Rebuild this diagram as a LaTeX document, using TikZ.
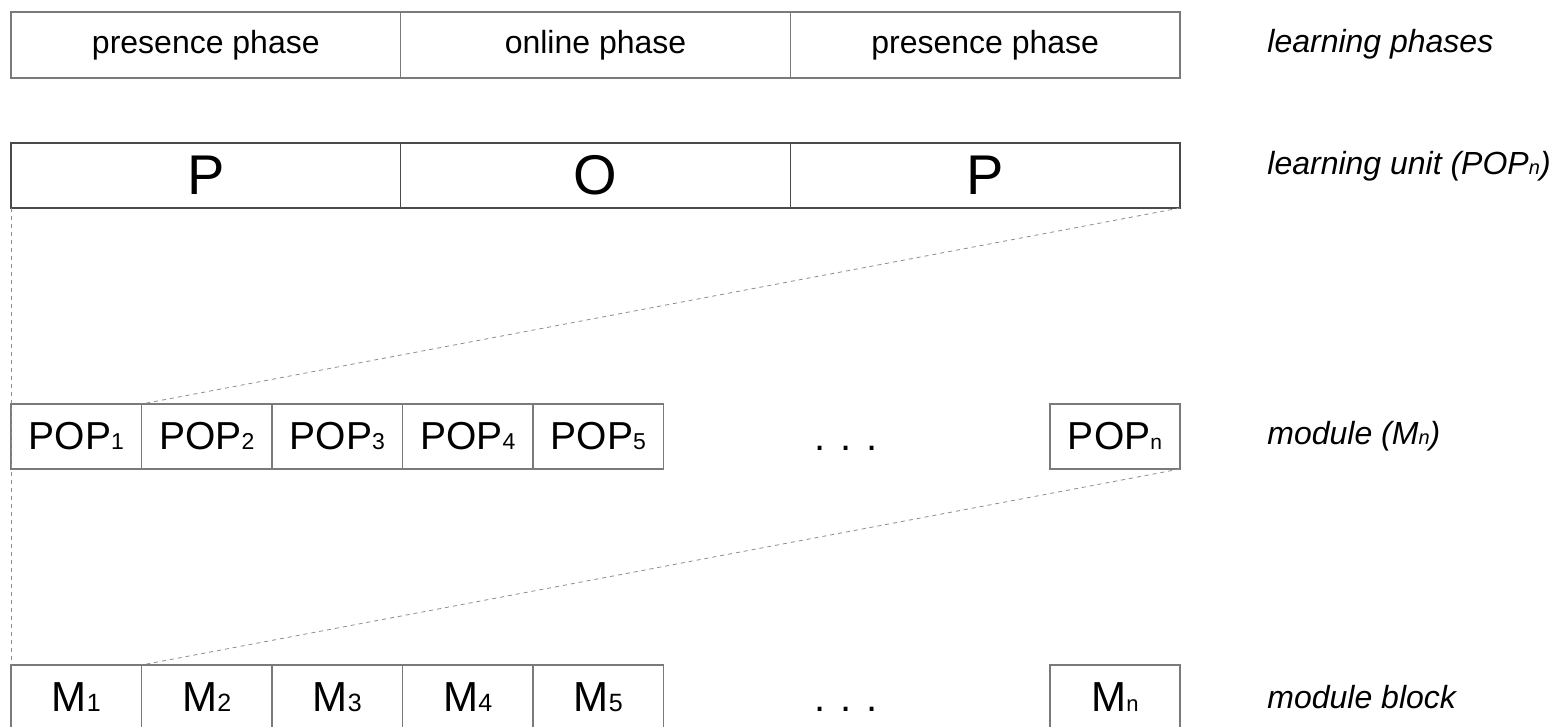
\documentclass[tikz,border=0pt]{standalone}
\usepackage{fontspec}
\setmainfont{Liberation Sans}
\definecolor{boxgray}{HTML}{7A7A7A}
\definecolor{unitgray}{HTML}{4A4A4A}
\definecolor{linkgray}{HTML}{8C8C8C}
% small index set on the baseline, in the given size
\newcommand{\sub}[2][10]{{\fontsize{#1}{#1}\selectfont #2}}
\begin{document}
\begin{tikzpicture}[x=0.5pt,y=-0.5pt,
  cell/.style={draw=boxgray, line width=0.6pt, inner sep=0pt, outer sep=0pt,
    anchor=north west, minimum height=32.5pt, text=black},
  phasecell/.style={cell, minimum width=194.83pt, minimum height=33pt,
    font=\fontsize{16}{19}\selectfont},
  unitcell/.style={cell, draw=unitgray, minimum width=194.83pt,
    font=\fontsize{28}{33}\selectfont},
  popcell/.style={cell, minimum width=65.25pt, font=\fontsize{19.5}{23}\selectfont},
  modcell/.style={cell, minimum width=65.25pt, font=\fontsize{21}{25}\selectfont},
  dots/.style={inner sep=0pt, anchor=base, font=\fontsize{20}{24}\selectfont},
  rowlabel/.style={inner sep=0pt, anchor=west, font=\fontsize{16}{19}\selectfont\itshape},
  conn/.style={draw=linkgray, line width=0.4pt, dash pattern=on 2pt off 2pt}]
\useasboundingbox (0,0) rectangle (1556,727);
\clip (0,0) rectangle (1556,727);

% learning phases
\node[phasecell] (ph1) at (11,12) {presence phase};
\node[phasecell] (ph2) at (400.67,12) {online phase};
\node[phasecell] (ph3) at (790.33,12) {presence phase};

% learning unit
\node[unitcell] (lu1) at (11,143) {P};
\node[unitcell] (lu2) at (400.67,143) {O};
\node[unitcell] (lu3) at (790.33,143) {P};

% module
\node[popcell] (pop1) at (11,404) {POP\sub[11.5]{1}};
\node[popcell] (pop2) at (141.5,404) {POP\sub[11.5]{2}};
\node[popcell] (pop3) at (272,404) {POP\sub[11.5]{3}};
\node[popcell] (pop4) at (402.5,404) {POP\sub[11.5]{4}};
\node[popcell] (pop5) at (533,404) {POP\sub[11.5]{5}};
\node[dots] (popdots) at (846,450) {. . .};
\node[popcell, minimum width=65pt] (popn) at (1050,404) {POP\sub[10.5]{n}};

% module block
\node[modcell] (m1) at (11,665) {M\sub[12.5]{1}};
\node[modcell] (m2) at (141.5,665) {M\sub[12.5]{2}};
\node[modcell] (m3) at (272,665) {M\sub[12.5]{3}};
\node[modcell] (m4) at (402.5,665) {M\sub[12.5]{4}};
\node[modcell] (m5) at (533,665) {M\sub[12.5]{5}};
\node[dots] (mdots) at (846,711) {. . .};
\node[modcell, minimum width=65pt] (mn) at (1050,665) {M\sub[11]{n}};

% expansion lines
\draw[conn] (lu3.south east) -- (pop2.north west);
\draw[conn] (popn.south east) -- (m2.north west);
\draw[conn] (lu1.south west) -- (m1.north west);

% row labels
\node[rowlabel] (lab1) at (1267,44) {learning phases};
\node[rowlabel] (lab2) at (1267,166) {learning unit (POP\sub{n})};
\node[rowlabel] (lab3) at (1267,436) {module (M\sub{n})};
\node[rowlabel] (lab4) at (1267,697) {module block};
\end{tikzpicture}
\end{document}
